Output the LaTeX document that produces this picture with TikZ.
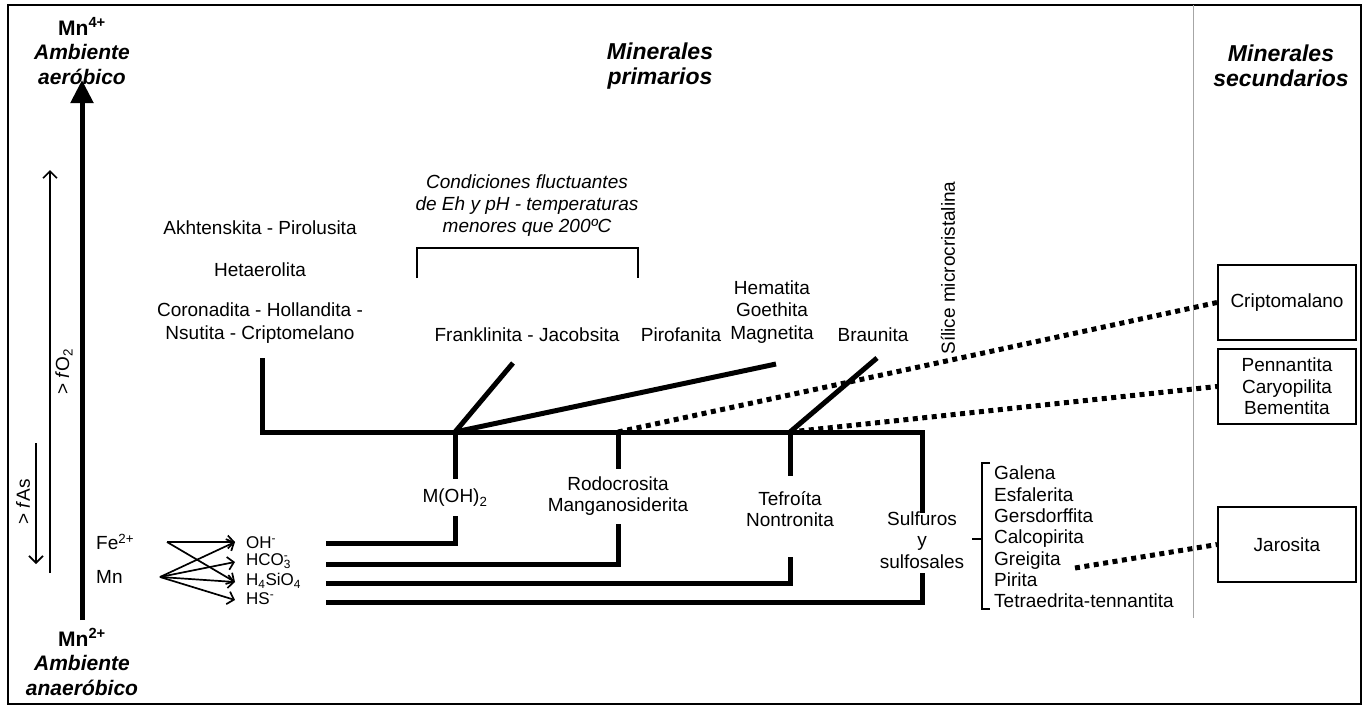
\documentclass[tikz,border=0pt]{standalone}
\usepackage{fontspec}
\setmainfont{Liberation Sans}
\usetikzlibrary{arrows.meta}
\begin{document}
\begin{tikzpicture}[x=1pt,y=-1pt,
  lab/.style={font=\fontsize{19}{21.5}\selectfont, inner sep=0pt, align=center},
  ionlab/.style={font=\fontsize{17}{18}\selectfont, inner sep=0pt, anchor=west},
  ilab/.style={font=\fontsize{19}{22}\selectfont\itshape, inner sep=0pt, align=center},
  head/.style={font=\fontsize{21}{24.5}\selectfont\bfseries, inner sep=0pt, align=center},
  headi/.style={font=\fontsize{23}{25}\selectfont\bfseries\itshape, inner sep=0pt, align=center},
  bar/.style={line width=5pt},
  dots/.style={line width=5pt, dash pattern=on 5pt off 4.5pt},
  thin/.style={line width=2pt},
  thinarr/.style={line width=1.6pt, -{Straight Barb[length=7pt,width=14pt]}},
  iarr/.style={line width=1.7pt, -{Straight Barb[length=6pt,width=13pt]}},
  box/.style={draw, line width=2pt, minimum width=138pt, minimum height=75pt, inner sep=0pt, align=center, font=\fontsize{19}{21.5}\selectfont}
]
\useasboundingbox (0,0) rectangle (1369,707);
\draw[line width=2pt] (8,5) rectangle (1361,704);
\draw[gray!70, line width=1pt] (1193,5) -- (1193,618);

% headings
\node[head] (mn4) at (82,51) {Mn\textsuperscript{4+}\\\textit{Ambiente}\\\textit{aeróbico}};
\node[head] (mn2) at (82,662) {Mn\textsuperscript{2+}\\\textit{Ambiente}\\\textit{anaeróbico}};
\node[headi] (prim) at (660,66) {Minerales\\primarios};
\node[headi] (sec) at (1281,66) {Minerales\\secundarios};

% main arrow
\coordinate (abot) at (82,620);
\coordinate (atop) at (82,80);
\draw[line width=5pt,-{Triangle[length=23pt,width=22pt]}] (abot) -- (atop);

% fO2 and fAs arrows
\coordinate (fo2b) at (50,573);
\coordinate (fo2t) at (50,170);
\draw[thinarr] (fo2b) -- (fo2t);
\node[lab, rotate=90] (fo2) at (64,372) {> \textit{f}O\textsubscript{2}};
\coordinate (fast) at (36,443);
\coordinate (fasb) at (36,564);
\draw[thinarr] (fast) -- (fasb);
\node[lab, rotate=90] (fas) at (23,502) {> \textit{f}As};

% cations and anions
\node[lab, anchor=west] (fe) at (96,542) {Fe\textsuperscript{2+}};
\node[lab, anchor=west] (mn) at (96,577) {Mn};
\coordinate (fes) at (167,542);
\coordinate (mns) at (160,577);
\coordinate (ohp) at (235,542);
\coordinate (hcop) at (235,562);
\coordinate (hsip) at (235,582);
\coordinate (hsp) at (235,600);
\node[ionlab] (oh) at (246,543) {OH\textsuperscript{-}};
\node[ionlab] (hco) at (246,561) {HCO\rlap{\textsuperscript{-}}\textsubscript{3}};
\node[ionlab] (hsi) at (246,581) {H\textsubscript{4}SiO\textsubscript{4}};
\node[ionlab] (hs) at (246,599) {HS\textsuperscript{-}};
\draw[iarr] (fes) -- (ohp);
\draw[iarr] (fes) -- (hsip);
\draw[iarr] (mns) -- (ohp);
\draw[iarr] (mns) -- (hcop);
\draw[iarr] (mns) -- (hsip);
\draw[iarr] (mns) -- (hsp);

% tree
\coordinate (tl) at (262,358);
\coordinate (tlc) at (262,432);
\coordinate (j1) at (455,432);
\coordinate (j2) at (618,432);
\coordinate (j3) at (790,432);
\coordinate (j4) at (922,432);
\coordinate (frk) at (513,363);
\coordinate (mag) at (776,364);
\coordinate (brn) at (877,358);
\draw[bar] (tl) -- (tlc) -- (j4) -- (922,513);
\draw[bar] (j1) -- (frk);
\draw[bar] (j1) -- (mag);
\draw[bar] (j3) -- (brn);
\draw[bar] (j1) -- (455,479);
\draw[bar] (j2) -- (618,469);
\draw[bar] (j3) -- (790,476);
\coordinate (l1s) at (326,543); \coordinate (l1c) at (455,543);
\coordinate (l2s) at (326,564); \coordinate (l2c) at (618,564);
\coordinate (l3s) at (326,583); \coordinate (l3c) at (790,583);
\coordinate (l4s) at (326,602); \coordinate (l4c) at (922,602);
\draw[bar] (l1s) -- (l1c) -- (455,516);
\draw[bar] (l2s) -- (l2c) -- (618,524);
\draw[bar] (l3s) -- (l3c) -- (790,557);
\draw[bar] (l4s) -- (l4c) -- (922,573);

\node[lab] (moh) at (455,498) {M(OH)\textsubscript{2}};
\node[lab] (rod) at (618,496) {Rodocrosita\\Manganosiderita};
\node[lab] (tef) at (790,509) {Tefroíta\\Nontronita};
\node[lab] (sul) at (922,540) {Sulfuros\\y\\sulfosales};

% upper labels
\node[lab] (akh) at (260,228) {Akhtenskita - Pirolusita};
\node[lab] (het) at (260,270) {Hetaerolita};
\node[lab, font=\fontsize{19}{23}\selectfont] (cor) at (260,323.5) {Coronadita - Hollandita -\\Nsutita - Criptomelano};
\node[lab] (fra) at (527,335) {Franklinita - Jacobsita};
\node[lab] (pir) at (681,335) {Pirofanita};
\node[lab, font=\fontsize{19}{22.5}\selectfont] (hem) at (772,312) {Hematita\\Goethita\\Magnetita};
\node[lab] (bra) at (873,335) {Braunita};
\node[lab, rotate=90] (sil) at (948,268) {Sílice microcristalina};
\node[ilab] (cond) at (527,206) {Condiciones fluctuantes\\de Eh y pH - temperaturas\\menores que 200ºC};
\draw[thin] (417,278) -- (417,248) -- (638,248) -- (638,278);

% sulfide list
\node[lab, anchor=west, align=left, font=\fontsize{19}{21.3}\selectfont] (lst) at (994,537) {Galena\\Esfalerita\\Gersdorffita\\Calcopirita\\Greigita\\Pirita\\Tetraedrita-tennantita};
\draw[thin] (990,463) -- (982,463) -- (982,609) -- (990,609);
\draw[thin] (982,539) -- (972,539);

% secondary minerals
\node[box] (crip) at (1287,302.5) {Criptomalano};
\node[box] (penn) at (1287,386.5) {Pennantita\\Caryopilita\\Bementita};
\node[box] (jar) at (1287,544.5) {Jarosita};
\coordinate (jars) at (1075,568);
\draw[dots] (j2) -- (crip.west);
\draw[dots] (j3) -- (penn.west);
\draw[dots] (jars) -- (jar.west);
\end{tikzpicture}
\end{document}
